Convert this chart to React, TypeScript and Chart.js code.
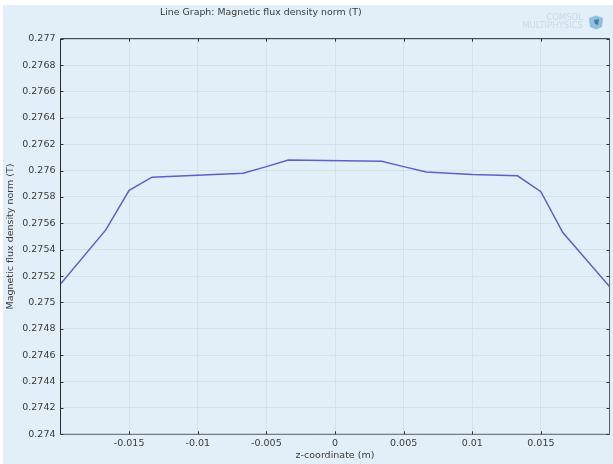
import React, { useEffect, useRef } from "react";
import { Chart, registerables } from "chart.js";

Chart.register(...registerables);

const zCoordinates = [-0.02, -0.0167, -0.015, -0.01333, -0.0067, -0.005, -0.0034, 0.0034, 0.005, 0.00665, 0.01, 0.0133, 0.015, 0.0166, 0.02];
const fluxDensity = [0.27514, 0.27555, 0.27585, 0.27595, 0.27598, 0.27603, 0.27608, 0.27607, 0.27603, 0.27599, 0.27597, 0.27596, 0.27584, 0.27553, 0.27512];
const xTickValues = [-0.015, -0.01, -0.005, 0, 0.005, 0.01, 0.015];
const yTickValues = [0.274, 0.2742, 0.2744, 0.2746, 0.2748, 0.275, 0.2752, 0.2754, 0.2756, 0.2758, 0.276, 0.2762, 0.2764, 0.2766, 0.2768, 0.277];
const chartTitle = "Line Graph: Magnetic flux density norm (T)";
const xTitle = "z-coordinate (m)";
const yTitle = "Magnetic flux density norm (T)";
const logoLines = ["COMSOL", "MULTIPHYSICS"];

const FONT = "'DejaVu Sans', sans-serif";
const BG = "#e2eff9";
const GRID = "#d6e2ea";
const TEXT = "#3a3a3a";

const fmt = (v: number) => String(Number(Number(v).toFixed(4)));

const decorations = {
  id: "decorations",
  beforeDraw(chart: any) {
    const { ctx, width, height } = chart;
    ctx.save();
    ctx.fillStyle = "#ffffff";
    ctx.fillRect(0, 0, width, height);
    ctx.fillStyle = BG;
    ctx.fillRect(3, 5, width - 3, height - 5);
    ctx.restore();
  },
  afterDatasetsDraw(chart: any) {
    const { ctx, chartArea: a, scales } = chart;
    ctx.save();
    // frame
    ctx.lineWidth = 1;
    ctx.strokeStyle = "#2b2b2b";
    ctx.beginPath();
    ctx.moveTo(a.left, a.bottom);
    ctx.lineTo(a.left, a.top);
    ctx.lineTo(a.right, a.top);
    ctx.stroke();
    ctx.strokeStyle = "#5a6066";
    ctx.beginPath();
    ctx.moveTo(a.right, a.top);
    ctx.lineTo(a.right, a.bottom);
    ctx.lineTo(a.left, a.bottom);
    ctx.stroke();
    // inward ticks on all four sides
    ctx.strokeStyle = "#333333";
    ctx.beginPath();
    xTickValues.forEach((v) => {
      const x = Math.round(scales.x.getPixelForValue(v)) + 0.5;
      ctx.moveTo(x, a.top);
      ctx.lineTo(x, a.top + 3);
      ctx.moveTo(x, a.bottom);
      ctx.lineTo(x, a.bottom - 3);
    });
    yTickValues.forEach((v) => {
      const y = Math.round(scales.y.getPixelForValue(v)) + 0.5;
      ctx.moveTo(a.left, y);
      ctx.lineTo(a.left + 3, y);
      ctx.moveTo(a.right, y);
      ctx.lineTo(a.right - 3, y);
    });
    ctx.stroke();
    // title
    ctx.fillStyle = TEXT;
    ctx.font = `9.4px ${FONT}`;
    ctx.textAlign = "left";
    ctx.textBaseline = "middle";
    ctx.fillText(chartTitle, 160, 13);
    // logo
    ctx.fillStyle = "#cbd9e5";
    ctx.font = `8.5px ${FONT}`;
    ctx.textAlign = "right";
    ctx.fillText(logoLines[0], 583, 18);
    ctx.fillText(logoLines[1], 583, 26);
    ctx.fillStyle = "#8fc0dc";
    ctx.beginPath();
    ctx.moveTo(589, 18);
    ctx.lineTo(596, 15.5);
    ctx.lineTo(603, 18);
    ctx.lineTo(602, 27);
    ctx.lineTo(596, 29.5);
    ctx.lineTo(590, 27);
    ctx.closePath();
    ctx.fill();
    ctx.fillStyle = "#3f7fa6";
    ctx.beginPath();
    ctx.moveTo(594, 20);
    ctx.lineTo(599, 19);
    ctx.lineTo(598, 25);
    ctx.lineTo(595, 24);
    ctx.closePath();
    ctx.fill();
    ctx.restore();
  },
};

export default function App() {
  const ref = useRef<HTMLCanvasElement>(null);
  useEffect(() => {
    const chart = new Chart(ref.current as HTMLCanvasElement, {
      type: "line",
      data: {
        datasets: [
          {
            data: zCoordinates.map((x, i) => ({ x, y: fluxDensity[i] })),
            borderColor: "#5a62c9",
            borderWidth: 1.5,
            pointRadius: 0,
            tension: 0,
            clip: true as any,
          },
        ],
      },
      options: {
        animation: false,
        responsive: false,
        devicePixelRatio: 1,
        layout: { padding: { left: 3, right: 3.5, top: 38.7, bottom: 3 } },
        plugins: { legend: { display: false }, tooltip: { enabled: false }, title: { display: false } },
        scales: {
          x: {
            type: "linear",
            min: -0.02,
            max: 0.02,
            afterBuildTicks: (s: any) => {
              s.ticks = xTickValues.map((value) => ({ value }));
            },
            afterFit: (s: any) => {
              s.height = 26.7;
            },
            grid: { color: GRID, drawTicks: false, lineWidth: 1 },
            border: { display: false },
            ticks: {
              maxRotation: 0,
              autoSkip: false,
              padding: 4,
              color: TEXT,
              font: { family: FONT, size: 9.5 },
              callback: (v: any) => fmt(v),
            },
            title: {
              display: true,
              text: xTitle,
              color: TEXT,
              font: { family: FONT, size: 9.5 },
              padding: { top: 1, bottom: 0 },
            },
          },
          y: {
            type: "linear",
            min: 0.274,
            max: 0.277,
            afterBuildTicks: (s: any) => {
              s.ticks = yTickValues.map((value) => ({ value }));
            },
            afterFit: (s: any) => {
              s.width = 57.5;
            },
            grid: { color: GRID, drawTicks: false, lineWidth: 1 },
            border: { display: false },
            ticks: {
              autoSkip: false,
              padding: 5,
              color: TEXT,
              font: { family: FONT, size: 9.5 },
              callback: (v: any) => fmt(v),
            },
            title: {
              display: true,
              text: yTitle,
              color: TEXT,
              font: { family: FONT, size: 9.5 },
              padding: { top: 2, bottom: 0 },
            },
          },
        },
      },
      plugins: [decorations],
    });
    return () => chart.destroy();
  }, []);
  return (
    <div style={{ position: "fixed", left: 0, top: 0, width: 613, height: 464 }}>
      <canvas ref={ref} width={613} height={464} style={{ display: "block" }} />
    </div>
  );
}
